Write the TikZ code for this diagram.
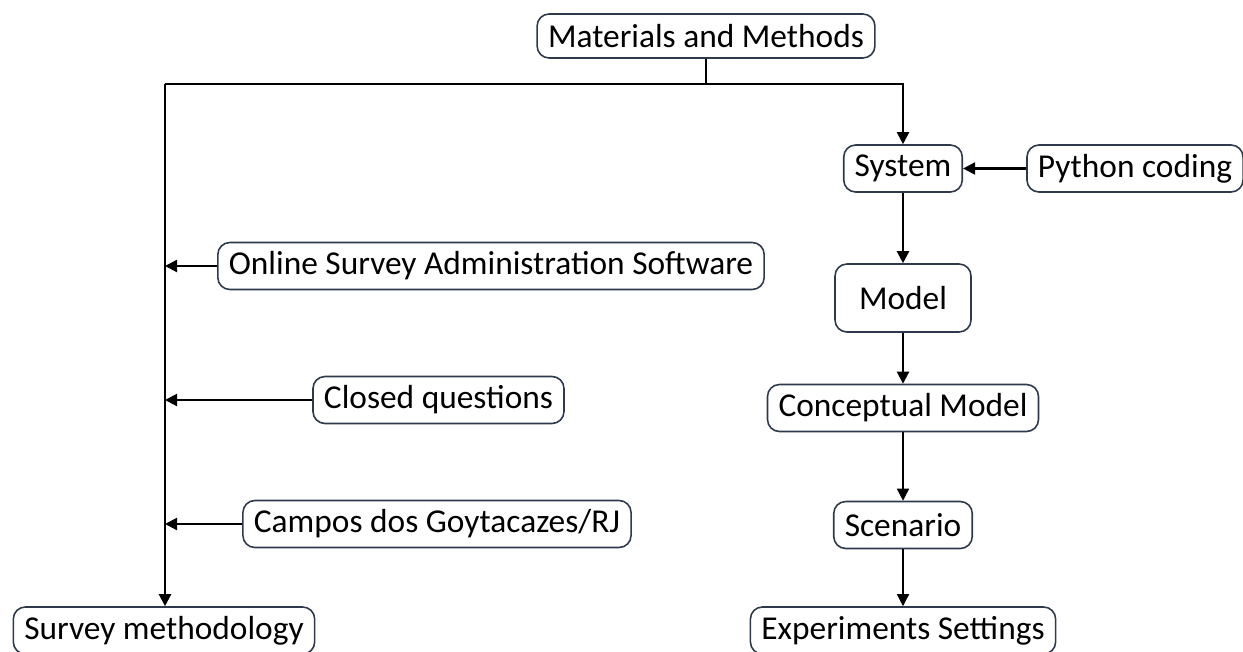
\documentclass[tikz,border=0pt]{standalone}
\usepackage{fontspec}
\setmainfont{Carlito}
\usetikzlibrary{arrows.meta}
\definecolor{boxline}{HTML}{2E3A4B}
\tikzset{
	box/.style={draw=boxline, line width=0.9pt, rounded corners=0.24cm, inner xsep=0.22cm, inner ysep=0pt, minimum height=0.94cm, font=\fontsize{19}{22}\selectfont},
	arr/.style={-{Triangle[length=0.24cm, width=0.24cm]}, line width=1.2pt},
	thinarr/.style={-{Triangle[length=0.24cm, width=0.24cm]}, line width=0.8pt}
}

\begin{document}
\begin{tikzpicture}
			%%%%% START %%%%%
			\useasboundingbox (0, 0) rectangle (24.86, -13.02);
			
			\node[box, minimum height=0.88cm] (mm) at (14.12, -0.72) {Materials and Methods};
			
			% left branch
			\node[box] (sm) at (3.28, -12.61) {Survey methodology};
			\node[box] (osa) at (9.82, -5.32) {Online Survey Administration Software};
			\node[box] (closed) at (8.77, -8.0) {Closed questions};
			\node[box] (campos) at (8.74, -10.48) {Campos dos Goytacazes/RJ};
			
			% right branch
			\node[box] (sys) at (18.06, -3.37) {System};
			\node[box] (py) at (22.7, -3.37) {Python coding};
			\node[box, minimum height=1.36cm, minimum width=2.72cm] (model) at (18.06, -5.96) {Model};
			\node[box] (cm) at (18.06, -8.16) {Conceptual Model};
			\node[box] (scen) at (18.06, -10.5) {Scenario};
			\node[box] (exp) at (18.06, -12.61) {Experiments Settings};
			
			\coordinate (lt) at (3.3, -1.68);
			\coordinate (rt) at (sys.north |- lt);
			
			\draw[line width=1.2pt] (mm.south) -- (mm.south |- lt);
			\draw[arr] (lt) -- (rt) -- (sys.north);
			\draw[arr] (lt) -- (lt |- sm.north);
			
			\draw[arr] (osa.west) -- (lt |- osa.west);
			\draw[arr] (closed.west) -- (lt |- closed.west);
			\draw[arr] (campos.west) -- (lt |- campos.west);
			
			\draw[arr] (py.west) -- (sys.east);
			\draw[arr] (sys.south) -- (model.north);
			\draw[arr] (model.south) -- (cm.north);
			\draw[thinarr] (cm.south) -- (scen.north);
			\draw[thinarr] (scen.south) -- (exp.north);
			
			%%%%% END %%%%%
\end{tikzpicture}
\end{document}
